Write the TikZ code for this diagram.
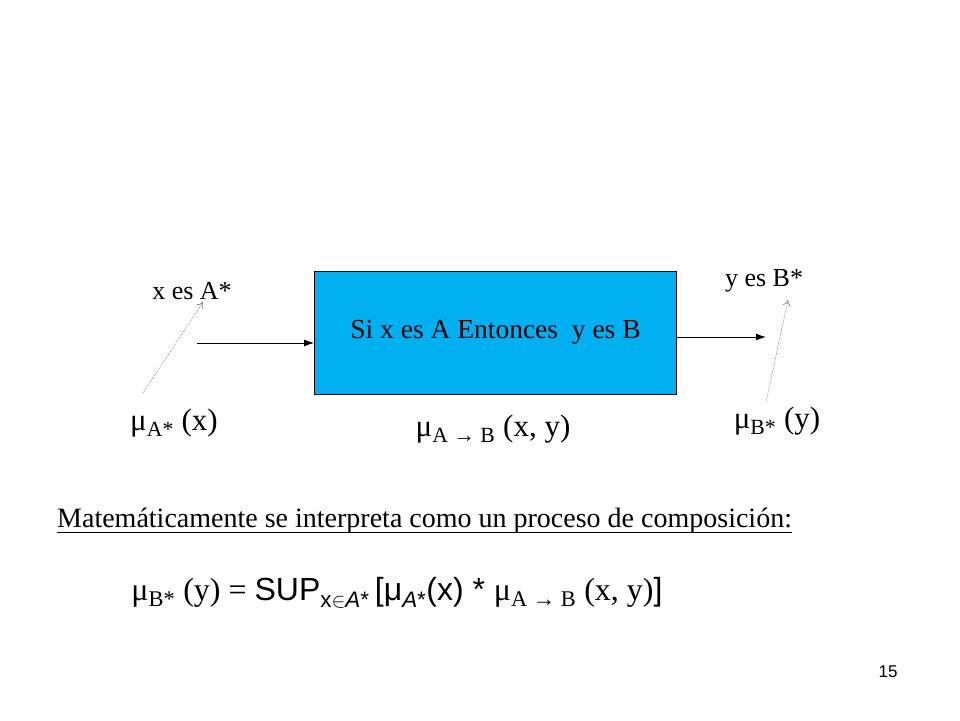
\documentclass[tikz,border=0pt]{standalone}
\usepackage{fontspec}
\setmainfont{Liberation Serif}
\newfontfamily\arialfont{Liberation Sans}
\usetikzlibrary{arrows.meta}
\definecolor{boxblue}{RGB}{0,176,240}
\tikzset{
  txt/.style={inner sep=0pt, font=\fontsize{26}{30}\selectfont},
  mulab/.style={inner sep=0pt, font=\fontsize{31}{34}\selectfont},
  rulebox/.style={draw, fill=boxblue, line width=0.8pt, minimum width=362pt,
    minimum height=123pt, inner sep=0pt, font=\fontsize{27.5}{30}\selectfont},
  solidarr/.style={-{Latex[length=10pt,width=7pt]}, line width=1pt},
  dotarr/.style={-{To[length=6pt,width=8pt]}, gray, densely dotted, line width=0.7pt},
}

\begin{document}
\begin{tikzpicture}[x=1pt,y=-1pt]
\useasboundingbox (0,0) rectangle (960,720);
\node[rulebox] (rule) at (495.5,332.5) {Si x es A Entonces\ \ y es B};
\node[txt] (xA) at (192,291) {x es A*};
\node[txt] (yB) at (764,281) {y es B*};
\node[mulab] (muA) at (174,423) {μ\textsubscript{A*} (x)};
\node[mulab] (muAB) at (493,429) {μ\textsubscript{A → B} (x, y)};
\node[mulab] (muB) at (777,421) {μ\textsubscript{B*} (y)};
% entradas y salidas
\coordinate (in) at (197,343);
\coordinate (out) at (766,337);
\draw[solidarr]
  (in) -- (in -| rule.west);
\draw[solidarr]
  (out -| rule.east) -- (out);
\coordinate (a1) at (143,393);
\coordinate (a2) at (203,302);
\coordinate (b1) at (766,402);
\coordinate (b2) at (788,300);
\draw[dotarr]
  (a1) -- (a2);
\draw[dotarr]
  (b1) -- (b2);
% composicion
\node[txt, anchor=base west, font=\fontsize{28}{32}\selectfont] (mat) at (57,527)
  {Matemáticamente se interpreta como un proceso de composición:};
\draw[line width=1pt]
  ([yshift=-5pt]mat.base west) -- ([yshift=-5pt]mat.base east);
\node[mulab, font=\fontsize{32}{36}\selectfont] (form) at (397,593)
  {μ\textsubscript{B*} (y) = {\arialfont SUP\textsubscript{x$\in$\textit{A}*}\,[μ\textsubscript{\textit{A}*}(x) * }μ\textsubscript{A → B} (x, y){\arialfont ]}};
\node[inner sep=0pt, font=\arialfont\fontsize{17}{19}\selectfont] (pg) at (888,672) {15};
\end{tikzpicture}
\end{document}
